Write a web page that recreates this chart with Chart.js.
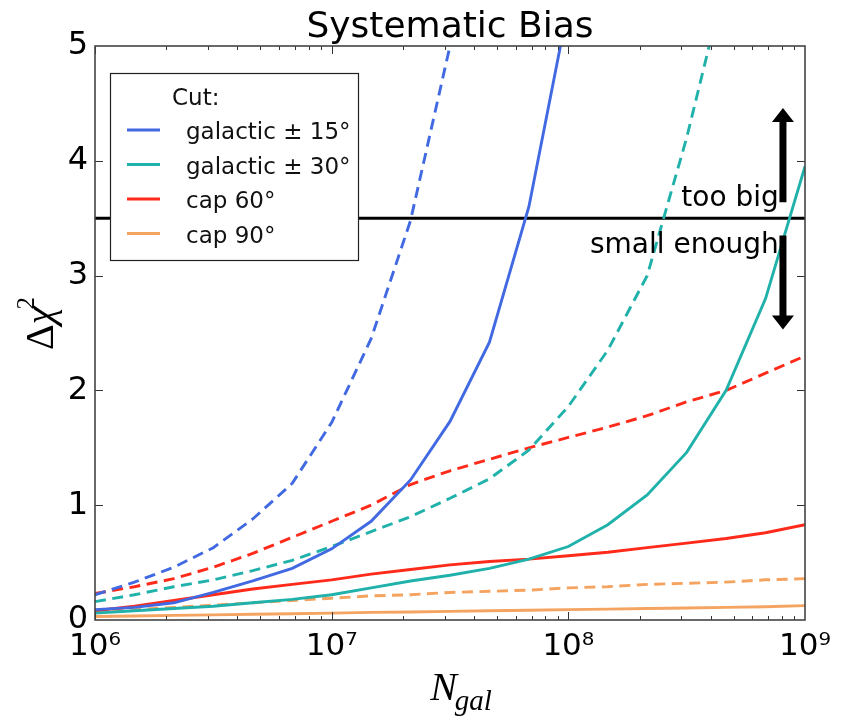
<!DOCTYPE html>
<html><head><meta charset="utf-8">
<script src="https://cdn.jsdelivr.net/npm/chart.js@4.4.1/dist/chart.umd.min.js"></script>
<style>html,body{margin:0;padding:0;background:#fff;}canvas{display:block;}</style>
</head><body>
<canvas id="c" width="842" height="721"></canvas>
<script>
// ---- data ----
const nGal = [1e6,1.468e6,2.154e6,3.162e6,4.642e6,6.813e6,1e7,1.468e7,2.154e7,3.162e7,4.642e7,6.813e7,1e8,1.468e8,2.154e8,3.162e8,4.642e8,6.813e8,1e9];
const gal15Solid  = [0.09,0.11,0.15,0.24,0.34,0.45,0.62,0.86,1.22,1.73,2.42,3.6,5.35];
const gal15Dashed = [0.22,0.33,0.46,0.63,0.88,1.19,1.72,2.45,3.48,5.0,7.1];
const gal30Solid  = [0.06,0.08,0.10,0.12,0.15,0.18,0.22,0.28,0.34,0.39,0.45,0.53,0.64,0.83,1.09,1.46,2.0,2.8,3.95];
const gal30Dashed = [0.16,0.22,0.29,0.35,0.43,0.52,0.64,0.77,0.90,1.06,1.23,1.48,1.86,2.35,3.0,4.2,5.6];
const cap60Solid  = [0.08,0.12,0.17,0.22,0.27,0.31,0.35,0.40,0.44,0.48,0.51,0.53,0.56,0.59,0.63,0.67,0.71,0.76,0.83];
const cap60Dashed = [0.23,0.29,0.36,0.46,0.58,0.72,0.86,1.0,1.18,1.30,1.40,1.50,1.59,1.68,1.78,1.90,2.0,2.15,2.3];
const cap90Solid  = [0.03,0.035,0.04,0.045,0.05,0.055,0.06,0.066,0.07,0.075,0.08,0.085,0.09,0.095,0.10,0.105,0.11,0.115,0.125];
const cap90Dashed = [0.07,0.09,0.11,0.13,0.15,0.17,0.19,0.21,0.22,0.24,0.25,0.26,0.28,0.29,0.31,0.32,0.33,0.35,0.36];
const threshold = 3.5;
const thresholdRange = [1e6, 1e9];
const legendLabels = ['galactic \u00b1 15\u00b0','galactic \u00b1 30\u00b0','cap 60\u00b0','cap 90\u00b0'];
const legendTitle = 'Cut:';
const xMajorTicks = [1e6,1e7,1e8,1e9];
const xTickLabels = ['10\u2076','10\u2077','10\u2078','10\u2079'];
const yTickLabels = ['0','1','2','3','4','5'];
const arrowX = 8.07e8;
const upArrow = [3.64, 4.46];
const downArrow = [3.35, 2.53];
const tooBig = {x: 7.75e8, y: 3.61, text: 'too big'};
const smallEnough = {x: 7.75e8, y: 3.2, text: 'small enough'};
const titleText = 'Systematic Bias';

// ---- styles ----
const C = {blue:'#4169e1', teal:'#20b2aa', red:'#ff2a1a', orange:'#f4a460'};
const DASH = [11,6.5];
const LW = 2.9;
const pts = arr => arr.map((v,i)=>({x:nGal[i], y:v}));
function ds(label, arr, color, dashed){
  return {label, data: pts(arr), borderColor: color, backgroundColor: color,
    borderWidth: LW, borderDash: dashed ? DASH : [], pointRadius: 0, tension: 0, fill:false};
}

const decor = {
  id: 'decor',
  afterDatasetsDraw(chart){
    const {ctx, chartArea:a, scales:{x, y}} = chart;
    ctx.save();
    const line = (x1,y1,x2,y2)=>{ctx.beginPath();ctx.moveTo(x1,y1);ctx.lineTo(x2,y2);ctx.stroke();};
    // ticks
    ctx.strokeStyle = '#333'; ctx.lineWidth = 1;
    for (let e = 6; e <= 8; e++) {
      for (let m = 1; m <= 9; m++) {
        const px = Math.round(x.getPixelForValue(m * Math.pow(10, e))) + 0.5;
        const L = m === 1 ? 8 : 4;
        line(px, a.bottom, px, a.bottom - L);
        line(px, a.top, px, a.top + L);
      }
    }
    for (let v = 1; v <= 4; v++) {
      const py = Math.round(y.getPixelForValue(v)) + 0.5;
      line(a.left, py, a.left + 8, py);
      line(a.right, py, a.right - 8, py);
    }
    // frame
    ctx.strokeStyle = '#444'; ctx.lineWidth = 1.6;
    ctx.strokeRect(a.left, a.top, a.right - a.left, a.bottom - a.top);

    // arrows
    ctx.fillStyle = '#000';
    function arrow(xv, y0, y1){
      const px = x.getPixelForValue(xv);
      const p0 = y.getPixelForValue(y0), p1 = y.getPixelForValue(y1);
      const dir = p1 < p0 ? -1 : 1;
      const head = 14, hw = 11, sw = 3.5;
      const hb = p1 - dir * head;
      ctx.beginPath();
      ctx.moveTo(px - sw, p0); ctx.lineTo(px - sw, hb); ctx.lineTo(px - hw, hb);
      ctx.lineTo(px, p1); ctx.lineTo(px + hw, hb); ctx.lineTo(px + sw, hb);
      ctx.lineTo(px + sw, p0); ctx.closePath(); ctx.fill();
    }
    arrow(arrowX, upArrow[0], upArrow[1]);
    arrow(arrowX, downArrow[0], downArrow[1]);

    // annotation texts
    ctx.fillStyle = '#000';
    ctx.font = '28px "DejaVu Sans"';
    ctx.textAlign = 'right'; ctx.textBaseline = 'alphabetic';
    ctx.fillText(tooBig.text, x.getPixelForValue(tooBig.x), y.getPixelForValue(tooBig.y));
    ctx.fillText(smallEnough.text, x.getPixelForValue(smallEnough.x), y.getPixelForValue(smallEnough.y));

    // legend
    const lx = a.left + 15, ly = a.top + 27, lw = 248, lh = 187;
    ctx.fillStyle = '#fff'; ctx.fillRect(lx, ly, lw, lh);
    ctx.strokeStyle = '#222'; ctx.lineWidth = 1.2; ctx.strokeRect(lx + 0.5, ly + 0.5, lw, lh);
    ctx.fillStyle = '#111'; ctx.textAlign = 'left';
    ctx.font = '23px "DejaVu Sans"';
    ctx.fillText(legendTitle, lx + 62, ly + 32);
    const cols = [C.blue, C.teal, C.red, C.orange];
    legendLabels.forEach((t, i) => {
      const yy = ly + 57 + i * 34.5;
      ctx.strokeStyle = cols[i]; ctx.lineWidth = LW;
      line(lx + 17, yy, lx + 50, yy);
      ctx.fillStyle = '#111';
      ctx.fillText(t, lx + 76, yy + 9);
    });

    // title
    ctx.fillStyle = '#000'; ctx.textAlign = 'center';
    ctx.font = '36px "DejaVu Sans"';
    ctx.fillText(titleText, (a.left + a.right) / 2, 37);

    // y axis title  Δχ²
    ctx.save();
    ctx.translate(53, 322);
    ctx.rotate(-Math.PI / 2);
    ctx.textAlign = 'left';
    const f1 = '40px "Liberation Serif"', f2 = 'italic 40px "Liberation Serif"', f3 = '25px "Liberation Serif"';
    ctx.font = f1; const wD = ctx.measureText('\u0394').width;
    ctx.font = f2; const wC = ctx.measureText('\u03c7').width;
    ctx.font = f3; const w2 = ctx.measureText('2').width;
    let sx = -(wD + wC + w2) / 2;
    ctx.font = f1; ctx.fillText('\u0394', sx, 0); sx += wD;
    ctx.font = f2; ctx.fillText('\u03c7', sx, 0); sx += wC - 3;
    ctx.font = f3; ctx.fillText('2', sx, -19);
    ctx.restore();

    // x axis title  N_gal
    ctx.textAlign = 'left';
    const g1 = 'italic 40px "Liberation Serif"', g2 = 'italic 29px "Liberation Serif"';
    ctx.font = g1; const wN = ctx.measureText('N').width;
    ctx.font = g2; const wg = ctx.measureText('gal').width;
    let tx = (a.left + a.right) / 2 - (wN + wg) / 2 + 12;
    ctx.font = g1; ctx.fillText('N', tx, 700);
    ctx.font = g2; ctx.fillText('gal', tx + wN - 2, 710);
    ctx.restore();
  }
};

new Chart(document.getElementById('c'), {
  type: 'line',
  data: {
    datasets: [
      ds('galactic ±15 (dashed)', gal15Dashed, C.blue, true),
      ds(legendLabels[0], gal15Solid, C.blue, false),
      ds('galactic ±30 (dashed)', gal30Dashed, C.teal, true),
      ds(legendLabels[1], gal30Solid, C.teal, false),
      ds('cap 60 (dashed)', cap60Dashed, C.red, true),
      ds(legendLabels[2], cap60Solid, C.red, false),
      ds('cap 90 (dashed)', cap90Dashed, C.orange, true),
      ds(legendLabels[3], cap90Solid, C.orange, false),
      {label:'threshold', data: thresholdRange.map(v=>({x:v, y:threshold})), borderColor:'#000', borderWidth:3, pointRadius:0}
    ]
  },
  options: {
    responsive: false,
    animation: false,
    devicePixelRatio: 1,
    layout: {padding: {top: 46, right: 37, left: 0, bottom: 0}},
    plugins: {legend: {display: false}, title: {display: false}, tooltip: {enabled: false}},
    scales: {
      x: {
        type: 'logarithmic', min: 1e6, max: 1e9,
        grid: {display: false, drawTicks: false}, border: {display: false},
        afterBuildTicks: s => { s.ticks = xMajorTicks.map(v => ({value: v})); },
        afterFit: s => { s.height = 101; },
        ticks: {
          autoSkip: false, maxRotation: 0, padding: 8, color: '#000',
          font: {family: '"DejaVu Sans"', size: 31},
          callback: (v, i) => xTickLabels[i]
        }
      },
      y: {
        type: 'linear', min: 0, max: 5,
        grid: {display: false, drawTicks: false}, border: {display: false},
        afterFit: s => { s.width = 95; },
        ticks: {
          stepSize: 1, padding: 7, color: '#000',
          font: {family: '"DejaVu Sans"', size: 32},
          callback: (v) => yTickLabels[Math.round(v)]
        }
      }
    }
  },
  plugins: [decor]
});
</script>
</body></html>
